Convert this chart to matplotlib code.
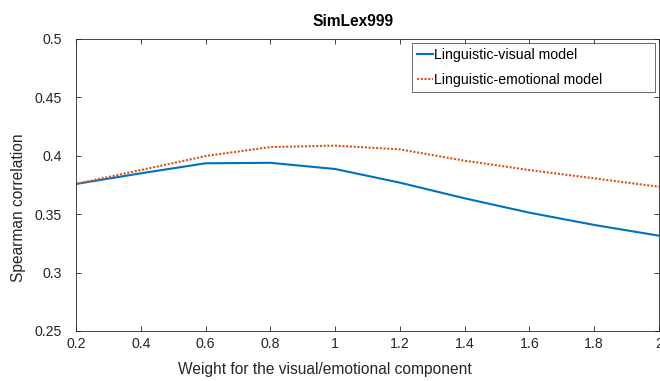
import matplotlib
matplotlib.use("Agg")
import matplotlib.pyplot as plt

weights = [0.2, 0.4, 0.6, 0.8, 1.0, 1.2, 1.4, 1.6, 1.8, 2.0]
visual = [0.3759, 0.3850, 0.3936, 0.3940, 0.3887, 0.3770, 0.3636, 0.3513, 0.3408, 0.3316]
emotional = [0.3759, 0.3878, 0.3998, 0.4075, 0.4087, 0.4055, 0.3958, 0.3878, 0.3807, 0.3735]
xticks = [0.2, 0.4, 0.6, 0.8, 1.0, 1.2, 1.4, 1.6, 1.8, 2.0]
xticklabels = ["0.2", "0.4", "0.6", "0.8", "1", "1.2", "1.4", "1.6", "1.8", "2"]
yticks = [0.25, 0.3, 0.35, 0.4, 0.45, 0.5]
yticklabels = ["0.25", "0.3", "0.35", "0.4", "0.45", "0.5"]

plt.rcParams['font.family'] = ['Liberation Sans', 'DejaVu Sans']

W, H = 660, 381
fig = plt.figure(figsize=(6.6, 3.81), dpi=100)
L, R, T, B = 76, 659, 39, 331
ax = fig.add_axes([L/W, 1-B/H, (R-L)/W, (B-T)/H])

def axx(px):
    return (px - L) / (R - L)

def axy(py):
    return (B - py) / (B - T)

ax.plot(weights, visual, color='#0072BD', lw=1.5, label='Linguistic-visual model')
ax.plot(weights, emotional, color='#D95319', lw=1.5, linestyle=(0, (1, 0.8)), label='Linguistic-emotional model')

ax.set_xlim(0.2, 2.0)
ax.set_ylim(0.25, 0.5)
ax.set_xticks(xticks)
ax.set_xticklabels(xticklabels)
ax.set_yticks(yticks)
ax.set_yticklabels(yticklabels)

tc = '#262626'
ax.tick_params(direction='in', length=3.8, width=0.6, colors=tc, labelsize=10.2,
               top=True, right=True, labelcolor=tc)
ax.tick_params(axis='x', pad=4.3)
ax.tick_params(axis='y', pad=10)
for s in ax.spines.values():
    s.set_color(tc)
    s.set_linewidth(0.6)

ax.set_xlabel('Weight for the visual/emotional component', fontsize=11.2, color=tc)
ax.xaxis.set_label_coords(axx(325), axy(362))
ax.set_ylabel('Spearman correlation', fontsize=11.2, color=tc)
ax.yaxis.set_label_coords(axx(19), axy(208))
ax.yaxis.label.set_verticalalignment('center')
ax.text(axx(353.5), axy(26), 'SimLex999', transform=ax.transAxes, fontsize=11.2,
        fontweight='bold', ha='center', va='baseline', color='black')

x0, x1, y0, y1 = axx(412), axx(655), axy(92), axy(43)
leg = ax.legend(loc='upper left', bbox_to_anchor=(x0, y0, x1 - x0, y1 - y0), mode='expand',
                fontsize=10.2, frameon=True, fancybox=False, edgecolor=tc,
                handlelength=1.15, handletextpad=0.05, borderpad=0.35,
                labelspacing=0.78, borderaxespad=0.0)
leg.get_frame().set_linewidth(0.6)

fig.savefig('out.png', dpi=100)
